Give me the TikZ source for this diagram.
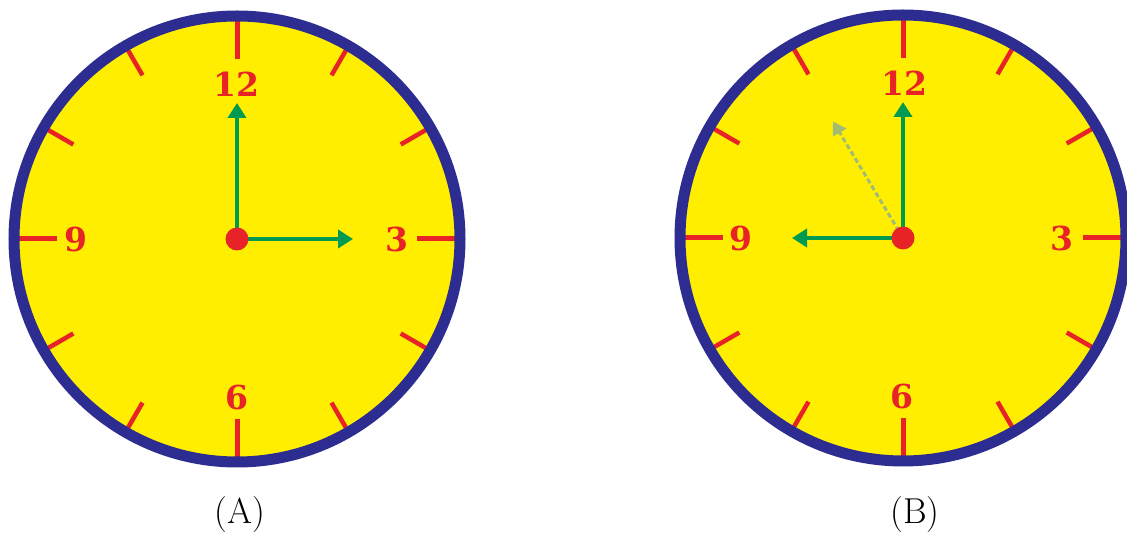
\documentclass[tikz,border=0pt]{standalone}
\usepackage{fontspec}
\newfontfamily\dialfont{DejaVu Serif}
\usetikzlibrary{arrows.meta,calc}
\definecolor{dialyellow}{RGB}{255,238,0}
\definecolor{rimblue}{RGB}{45,45,145}
\definecolor{markred}{RGB}{232,35,40}
\definecolor{handgreen}{RGB}{0,155,80}
\definecolor{ghostgreen}{RGB}{160,188,115}
\tikzset{
  rim/.style={draw=rimblue,line width=11pt},
  bigtick/.style={markred,line width=5pt},
  smalltick/.style={markred,line width=4.5pt},
  numeral/.style={markred,inner sep=0pt,font=\dialfont\bfseries\fontsize{33}{33}\selectfont},
  hand/.style={handgreen,line width=4pt,-{Triangle[length=15pt,width=18pt]}},
  oldhand/.style={ghostgreen,line width=3pt,dash pattern=on 5pt off 3pt,-{Triangle[length=13pt,width=15pt]}},
  pivot/.style={circle,fill=markred,minimum size=23pt,inner sep=0pt},
  caption/.style={inner sep=0pt,font=\fontsize{36}{40}\selectfont}
}
\begin{document}
\begin{tikzpicture}[x=1pt,y=1pt]
  \useasboundingbox (0,0) rectangle (1127,535);
  % clock (A): three o'clock
  \coordinate (ca) at (237,296);
  \fill[dialyellow] (ca) circle (223);
  \foreach \a in {0,90,180,270}
    \draw[bigtick,shift={(ca)}] (\a:180) -- (\a:221);
  \foreach \a in {30,60,120,150,210,240,300,330}
    \draw[smalltick,shift={(ca)}] (\a:189) -- (\a:221);
  \draw[rim] (ca) circle (223);
  \node[numeral] (a12) at ($(ca)+(-1,155)$) {12};
  \node[numeral] (a3) at ($(ca)+(160,0)$) {3};
  \node[numeral] (a6) at ($(ca)+(0,-158)$) {6};
  \node[numeral] (a9) at ($(ca)+(-161,0)$) {9};
  \coordinate (amin) at ($(ca)+(0,136)$);
  \coordinate (ahr) at ($(ca)+(116,0)$);
  \draw[hand] (ca) -- (amin);
  \draw[hand] (ca) -- (ahr);
  \node[pivot] (apiv) at (ca) {};
  \node[caption] (capa) at (240,20) {(A)};

  % clock (B): nine o'clock
  \coordinate (cb) at (903,297);
  \fill[dialyellow] (cb) circle (223);
  \foreach \a in {0,90,180,270}
    \draw[bigtick,shift={(cb)}] (\a:180) -- (\a:221);
  \foreach \a in {30,60,120,150,210,240,300,330}
    \draw[smalltick,shift={(cb)}] (\a:189) -- (\a:221);
  \draw[rim] (cb) circle (223);
  \node[numeral] (b12) at ($(cb)+(1,155)$) {12};
  \node[numeral] (b3) at ($(cb)+(159,0)$) {3};
  \node[numeral] (b6) at ($(cb)+(-1,-158)$) {6};
  \node[numeral] (b9) at ($(cb)+(-162,0)$) {9};
  \coordinate (bmin) at ($(cb)+(0,136)$);
  \coordinate (bhr) at ($(cb)+(-111,0)$);
  \coordinate (bold) at ($(cb)+(121:136)$);
  \draw[oldhand] (cb) -- (bold);
  \draw[hand] (cb) -- (bmin);
  \draw[hand] (cb) -- (bhr);
  \node[pivot] (bpiv) at (cb) {};
  \node[caption] (capb) at (915,20) {(B)};
\end{tikzpicture}
\end{document}
